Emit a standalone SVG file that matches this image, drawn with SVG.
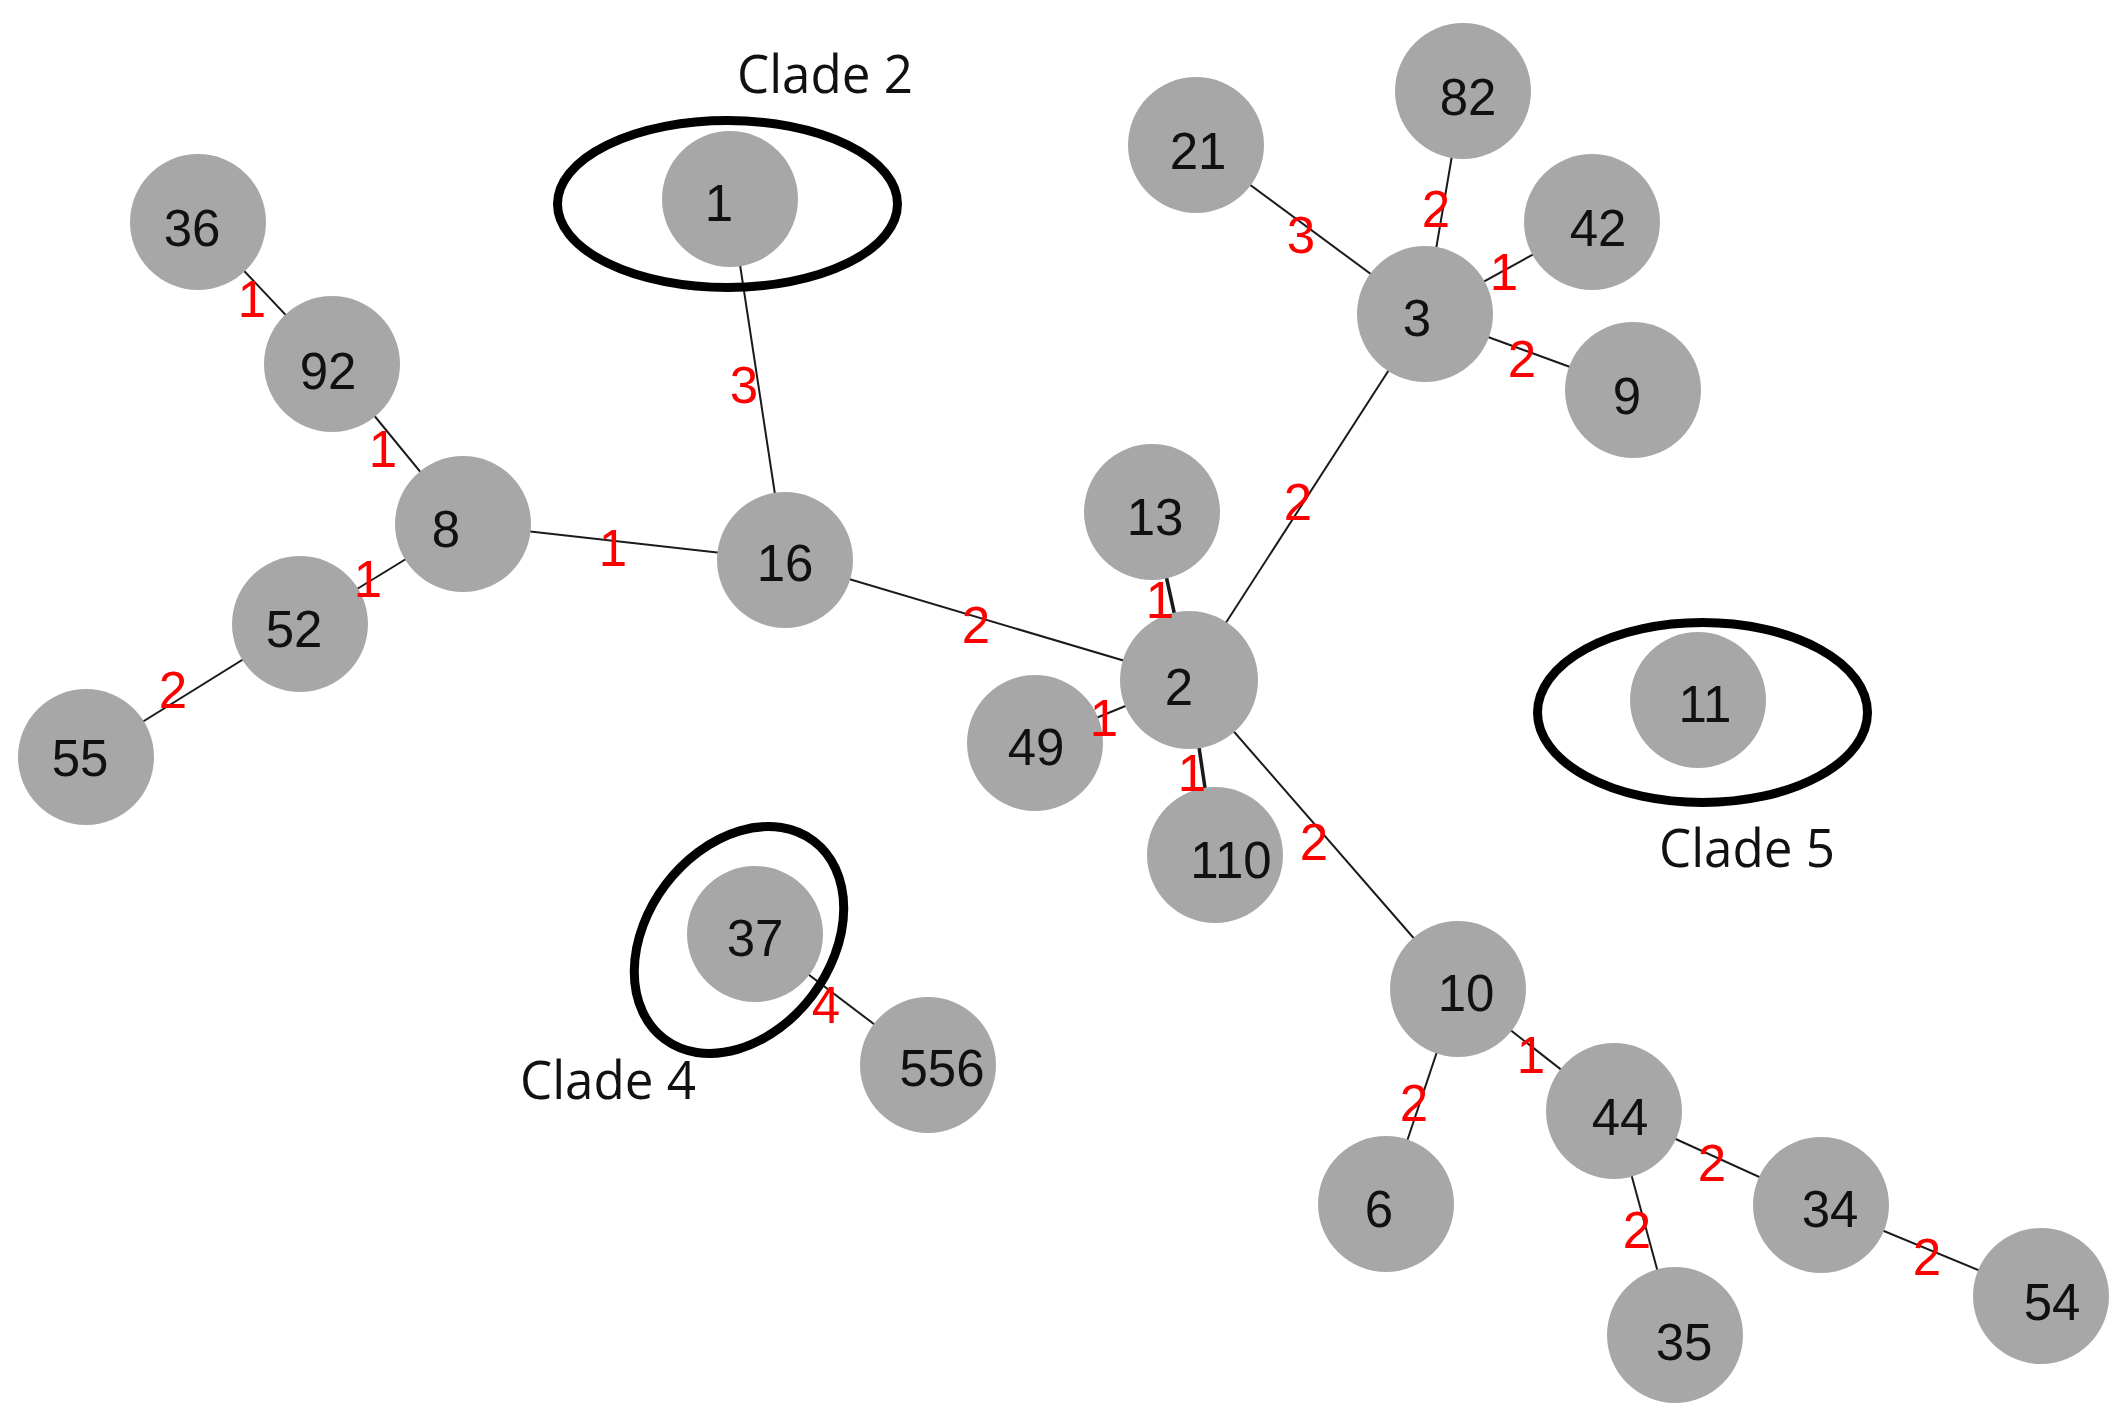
<svg xmlns="http://www.w3.org/2000/svg" width="2128" height="1419" viewBox="0 0 2128 1419">
<style>
.e{stroke:#1a1a1a;stroke-width:2;fill:none}
.ed{stroke:#1a1a1a;stroke-width:3.5;fill:none}
.n{fill:#a7a7a7}
.t{font-family:"Liberation Sans",Arial,sans-serif;font-size:51px;fill:#111;text-anchor:middle}
.w{font-family:"Liberation Sans",Arial,sans-serif;font-size:51px;fill:#ff0000;text-anchor:middle}
.c{fill:none;stroke:#000;stroke-width:9}
.cl{font-family:"Open Sans","Noto Sans",sans-serif;font-size:53px;fill:#111}
</style>
<rect width="2128" height="1419" fill="#fff"/>
<g id="connectors">
<line class="e" x1="198" y1="222" x2="332" y2="364"/>
<line class="e" x1="332" y1="364" x2="463" y2="524"/>
<line class="e" x1="463" y1="524" x2="785" y2="560"/>
<line class="e" x1="463" y1="524" x2="300" y2="624"/>
<line class="e" x1="300" y1="624" x2="86" y2="757"/>
<line class="e" x1="730" y1="199" x2="785" y2="560"/>
<line class="e" x1="785" y1="560" x2="1189" y2="680"/>
<line class="ed" x1="1152" y1="512" x2="1189" y2="680"/>
<line class="e" x1="1189" y1="680" x2="1425" y2="314"/>
<line class="e" x1="1189" y1="680" x2="1035" y2="743"/>
<line class="ed" x1="1189" y1="680" x2="1215" y2="855"/>
<line class="e" x1="1189" y1="680" x2="1458" y2="989"/>
<line class="e" x1="1425" y1="314" x2="1196" y2="145"/>
<line class="e" x1="1425" y1="314" x2="1463" y2="91"/>
<line class="e" x1="1425" y1="314" x2="1592" y2="222"/>
<line class="e" x1="1425" y1="314" x2="1633" y2="390"/>
<line class="e" x1="1458" y1="989" x2="1386" y2="1204"/>
<line class="e" x1="1458" y1="989" x2="1614" y2="1111"/>
<line class="e" x1="1614" y1="1111" x2="1821" y2="1205"/>
<line class="e" x1="1614" y1="1111" x2="1675" y2="1335"/>
<line class="e" x1="1821" y1="1205" x2="2041" y2="1296"/>
<line class="e" x1="755" y1="934" x2="928" y2="1065"/>
</g>
<g id="n36"><circle class="n" cx="198" cy="222" r="68"/><text class="t" x="192" y="246">36</text></g>
<g id="n92"><circle class="n" cx="332" cy="364" r="68"/><text class="t" x="328" y="389">92</text></g>
<g id="n8"><circle class="n" cx="463" cy="524" r="68"/><text class="t" x="446" y="547">8</text></g>
<g id="n16"><circle class="n" cx="785" cy="560" r="68"/><text class="t" x="785" y="581">16</text></g>
<g id="n52"><circle class="n" cx="300" cy="624" r="68"/><text class="t" x="294" y="647">52</text></g>
<g id="n55"><circle class="n" cx="86" cy="757" r="68"/><text class="t" x="80" y="776">55</text></g>
<g id="n1"><circle class="n" cx="730" cy="199" r="68"/><text class="t" x="719" y="221">1</text></g>
<g id="n2"><circle class="n" cx="1189" cy="680" r="69"/><text class="t" x="1179" y="705">2</text></g>
<g id="n13"><circle class="n" cx="1152" cy="512" r="68"/><text class="t" x="1155" y="535">13</text></g>
<g id="n49"><circle class="n" cx="1035" cy="743" r="68"/><text class="t" x="1036" y="765">49</text></g>
<g id="n110"><circle class="n" cx="1215" cy="855" r="68"/><text class="t" x="1231" y="878">110</text></g>
<g id="n3"><circle class="n" cx="1425" cy="314" r="68"/><text class="t" x="1417" y="336">3</text></g>
<g id="n21"><circle class="n" cx="1196" cy="145" r="68"/><text class="t" x="1198" y="169">21</text></g>
<g id="n82"><circle class="n" cx="1463" cy="91" r="68"/><text class="t" x="1468" y="115">82</text></g>
<g id="n42"><circle class="n" cx="1592" cy="222" r="68"/><text class="t" x="1598" y="246">42</text></g>
<g id="n9"><circle class="n" cx="1633" cy="390" r="68"/><text class="t" x="1627" y="414">9</text></g>
<g id="n10"><circle class="n" cx="1458" cy="989" r="68"/><text class="t" x="1466" y="1011">10</text></g>
<g id="n44"><circle class="n" cx="1614" cy="1111" r="68"/><text class="t" x="1620" y="1135">44</text></g>
<g id="n6"><circle class="n" cx="1386" cy="1204" r="68"/><text class="t" x="1379" y="1227">6</text></g>
<g id="n34"><circle class="n" cx="1821" cy="1205" r="68"/><text class="t" x="1830" y="1227">34</text></g>
<g id="n35"><circle class="n" cx="1675" cy="1335" r="68"/><text class="t" x="1684" y="1360">35</text></g>
<g id="n54"><circle class="n" cx="2041" cy="1296" r="68"/><text class="t" x="2052" y="1320">54</text></g>
<g id="n37"><circle class="n" cx="755" cy="934" r="68"/><text class="t" x="755" y="956">37</text></g>
<g id="n556"><circle class="n" cx="928" cy="1065" r="68"/><text class="t" x="942" y="1086">556</text></g>
<g id="n11"><circle class="n" cx="1698" cy="700" r="68"/><text class="t" x="1705" y="722">11</text></g>
<g id="clades">
<ellipse class="c" cx="727.5" cy="204" rx="170" ry="83.5"/>
<text class="cl" x="737" y="93" textLength="176" lengthAdjust="spacingAndGlyphs">Clade 2</text>
<ellipse class="c" cx="739" cy="940" rx="92" ry="124" transform="rotate(37 739 940)"/>
<text class="cl" x="520" y="1099" textLength="176" lengthAdjust="spacingAndGlyphs">Clade 4</text>
<ellipse class="c" cx="1702.5" cy="712.5" rx="165" ry="90"/>
<text class="cl" x="1659" y="867" textLength="176" lengthAdjust="spacingAndGlyphs">Clade 5</text>
</g>
<g id="edge-labels">
<text class="w" x="252" y="317">1</text>
<text class="w" x="383" y="467">1</text>
<text class="w" x="744" y="403">3</text>
<text class="w" x="613" y="566">1</text>
<text class="w" x="368" y="597">1</text>
<text class="w" x="976" y="643">2</text>
<text class="w" x="173" y="708">2</text>
<text class="w" x="1301" y="253">3</text>
<text class="w" x="1436" y="227">2</text>
<text class="w" x="1504" y="290">1</text>
<text class="w" x="1522" y="377">2</text>
<text class="w" x="1298" y="520">2</text>
<text class="w" x="1160" y="618">1</text>
<text class="w" x="1104" y="736">1</text>
<text class="w" x="1192" y="791">1</text>
<text class="w" x="1314" y="860">2</text>
<text class="w" x="1531" y="1073">1</text>
<text class="w" x="1414" y="1121">2</text>
<text class="w" x="1712" y="1181">2</text>
<text class="w" x="1637" y="1248">2</text>
<text class="w" x="1927" y="1275">2</text>
<text class="w" x="826" y="1023">4</text>
</g>
</svg>
